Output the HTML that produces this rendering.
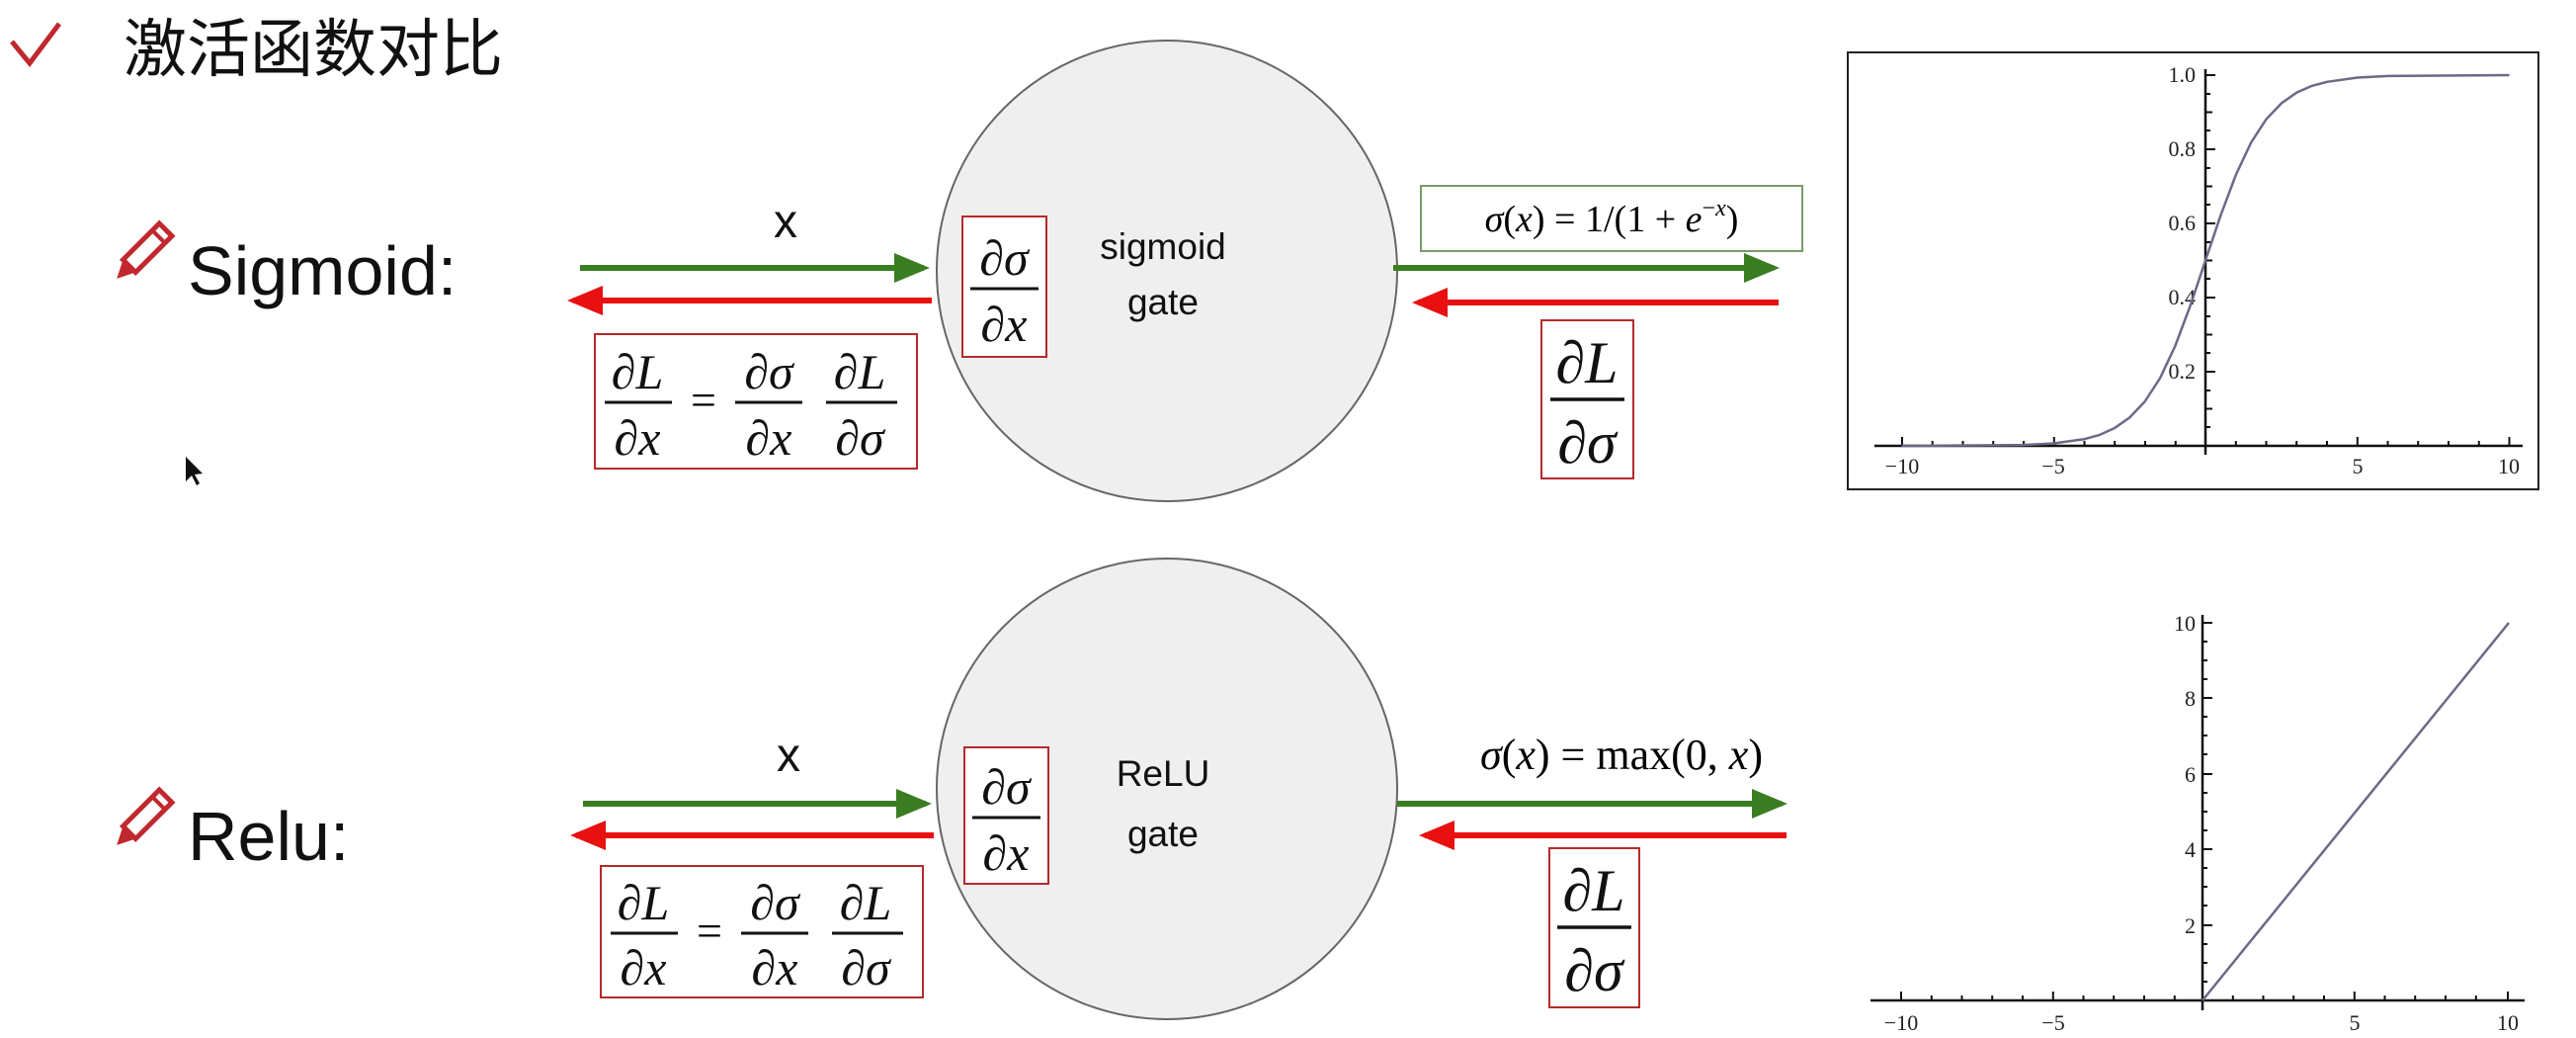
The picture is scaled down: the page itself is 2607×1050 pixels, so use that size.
<!DOCTYPE html>
<html><head><meta charset="utf-8"><style>
html,body{margin:0;padding:0;background:#fff;}
svg{display:block;}
.m{font-family:"Liberation Serif",serif;font-style:italic;fill:#111;}
.s{font-family:"Liberation Sans","Noto Sans CJK SC",sans-serif;fill:#111;}
.t{font-family:"Liberation Serif",serif;font-size:22px;fill:#222;}
</style></head><body>
<svg width="2607" height="1050" viewBox="0 0 2607 1050" xmlns="http://www.w3.org/2000/svg">
<defs>
<marker id="ag" markerWidth="6" markerHeight="6" refX="5" refY="3" orient="auto" markerUnits="strokeWidth"><path d="M0,0.5 L6,3 L0,5.5 Z" fill="#3a7d22"/></marker>
<marker id="ar" markerWidth="6" markerHeight="6" refX="5" refY="3" orient="auto" markerUnits="strokeWidth"><path d="M0,0.5 L6,3 L0,5.5 Z" fill="#e81010"/></marker>
</defs>
<path d="M12,42 L30,64 L60,24" fill="none" stroke="#c0282e" stroke-width="5"/>
<path d="M16,40 L30,57 L56,22" fill="none" stroke="#fff" stroke-width="1.5"/>
<text x="125" y="72" class="s" font-size="64">激活函数对比</text>

<g transform="translate(145,255) rotate(45)"><rect x="-9" y="-32" width="18" height="52" fill="none" stroke="#c0282e" stroke-width="5"/><path d="M-9,20 L0,38 L9,20 Z" fill="#c0282e"/><line x1="-9" y1="-22" x2="9" y2="-22" stroke="#c0282e" stroke-width="4"/></g>
<g transform="translate(145,828) rotate(45)"><rect x="-9" y="-32" width="18" height="52" fill="none" stroke="#c0282e" stroke-width="5"/><path d="M-9,20 L0,38 L9,20 Z" fill="#c0282e"/><line x1="-9" y1="-22" x2="9" y2="-22" stroke="#c0282e" stroke-width="4"/></g>
<text x="190" y="298" class="s" font-size="70">Sigmoid:</text>
<text x="190" y="870" class="s" font-size="70">Relu:</text>

<circle cx="1181" cy="274" r="233" fill="#efefef" stroke="#666" stroke-width="2"/>
<line x1="587" y1="271" x2="935" y2="271" stroke="#3a7d22" stroke-width="6" marker-end="url(#ag)"/>
<line x1="943" y1="304" x2="580" y2="304" stroke="#e81010" stroke-width="6" marker-end="url(#ar)"/>
<line x1="1410" y1="271" x2="1795" y2="271" stroke="#3a7d22" stroke-width="6" marker-end="url(#ag)"/>
<line x1="1800" y1="306" x2="1435" y2="306" stroke="#e81010" stroke-width="6" marker-end="url(#ar)"/>
<text x="795" y="240" class="s" font-size="48" text-anchor="middle">x</text>
<text x="1177" y="262" class="s" font-size="37" text-anchor="middle">sigmoid</text>
<text x="1177" y="318" class="s" font-size="37" text-anchor="middle">gate</text>
<rect x="974" y="219" width="85" height="142" fill="#fff" stroke="#b52a2a" stroke-width="2"/>
<text x="1016" y="278" class="m" font-size="50" text-anchor="middle">∂σ</text>
<line x1="982" y1="292" x2="1051" y2="292" stroke="#111" stroke-width="3"/>
<text x="1016" y="345" class="m" font-size="50" text-anchor="middle">∂x</text>
<rect x="602" y="338" width="326" height="136" fill="#fff" stroke="#b52a2a" stroke-width="2"/>
<g class="m" font-size="50" text-anchor="middle">
<text x="645" y="393">∂L</text><text x="645" y="460">∂x</text>
<text x="778" y="393">∂σ</text><text x="778" y="460">∂x</text>
<text x="870" y="393">∂L</text><text x="870" y="460">∂σ</text>
</g>
<line x1="612" y1="407" x2="680" y2="407" stroke="#111" stroke-width="3"/>
<line x1="744" y1="407" x2="812" y2="407" stroke="#111" stroke-width="3"/>
<line x1="836" y1="407" x2="908" y2="407" stroke="#111" stroke-width="3"/>
<text x="712" y="420" font-family="Liberation Serif,serif" font-size="46" text-anchor="middle">=</text>
<rect x="1438" y="188" width="386" height="66" fill="#fff" stroke="#7a9a6a" stroke-width="2"/>
<text x="1631" y="234" font-family="Liberation Serif,serif" font-size="38" text-anchor="middle"><tspan font-style="italic">σ</tspan>(<tspan font-style="italic">x</tspan>) = 1/(1 + <tspan font-style="italic">e</tspan><tspan font-size="24" dy="-16">−<tspan font-style="italic">x</tspan></tspan><tspan dy="16">)</tspan></text>
<rect x="1560" y="324" width="93" height="160" fill="#fff" stroke="#b52a2a" stroke-width="2"/>
<text x="1606" y="387" class="m" font-size="60" text-anchor="middle">∂L</text>
<line x1="1569" y1="404" x2="1644" y2="404" stroke="#111" stroke-width="3.5"/>
<text x="1606" y="468" class="m" font-size="60" text-anchor="middle">∂σ</text>

<circle cx="1181" cy="798" r="233" fill="#efefef" stroke="#666" stroke-width="2"/>
<line x1="590" y1="813" x2="937" y2="813" stroke="#3a7d22" stroke-width="6" marker-end="url(#ag)"/>
<line x1="945" y1="845" x2="583" y2="845" stroke="#e81010" stroke-width="6" marker-end="url(#ar)"/>
<line x1="1414" y1="813" x2="1803" y2="813" stroke="#3a7d22" stroke-width="6" marker-end="url(#ag)"/>
<line x1="1808" y1="845" x2="1442" y2="845" stroke="#e81010" stroke-width="6" marker-end="url(#ar)"/>
<text x="798" y="780" class="s" font-size="48" text-anchor="middle">x</text>
<text x="1177" y="795" class="s" font-size="37" text-anchor="middle">ReLU</text>
<text x="1177" y="856" class="s" font-size="37" text-anchor="middle">gate</text>
<rect x="976" y="756" width="85" height="138" fill="#fff" stroke="#b52a2a" stroke-width="2"/>
<text x="1018" y="813" class="m" font-size="50" text-anchor="middle">∂σ</text>
<line x1="984" y1="827" x2="1053" y2="827" stroke="#111" stroke-width="3"/>
<text x="1018" y="880" class="m" font-size="50" text-anchor="middle">∂x</text>
<rect x="608" y="876" width="326" height="133" fill="#fff" stroke="#b52a2a" stroke-width="2"/>
<g class="m" font-size="50" text-anchor="middle">
<text x="651" y="930">∂L</text><text x="651" y="996">∂x</text>
<text x="784" y="930">∂σ</text><text x="784" y="996">∂x</text>
<text x="876" y="930">∂L</text><text x="876" y="996">∂σ</text>
</g>
<line x1="618" y1="944" x2="686" y2="944" stroke="#111" stroke-width="3"/>
<line x1="750" y1="944" x2="818" y2="944" stroke="#111" stroke-width="3"/>
<line x1="842" y1="944" x2="914" y2="944" stroke="#111" stroke-width="3"/>
<text x="718" y="957" font-family="Liberation Serif,serif" font-size="46" text-anchor="middle">=</text>
<text x="1641" y="778" font-family="Liberation Serif,serif" font-size="44" text-anchor="middle"><tspan font-style="italic">σ</tspan>(<tspan font-style="italic">x</tspan>) = max(0, <tspan font-style="italic">x</tspan>)</text>
<rect x="1568" y="858" width="91" height="161" fill="#fff" stroke="#b52a2a" stroke-width="2"/>
<text x="1613" y="921" class="m" font-size="60" text-anchor="middle">∂L</text>
<line x1="1576" y1="938" x2="1651" y2="938" stroke="#111" stroke-width="3.5"/>
<text x="1613" y="1002" class="m" font-size="60" text-anchor="middle">∂σ</text>

<rect x="1870" y="53" width="699" height="442" fill="#fff" stroke="#222" stroke-width="2"/>
<line x1="1897" y1="451" x2="2553" y2="451" stroke="#111" stroke-width="2.5"/>
<line x1="2232" y1="70" x2="2232" y2="460" stroke="#111" stroke-width="2.5"/>
<g stroke="#111" stroke-width="2">
<path d="M1925,451v-9M1955.7,451v-5M1986.5,451v-5M2017.2,451v-5M2048,451v-5M2078.8,451v-9M2109.5,451v-5M2140.2,451v-5M2171,451v-5M2201.8,451v-5M2262.8,451v-5M2293.5,451v-5M2324.2,451v-5M2355,451v-5M2385.8,451v-9M2416.5,451v-5M2447.2,451v-5M2478,451v-5M2508.8,451v-5M2539.5,451v-9"/>
<path d="M2232,76h10M2232,113.5h7M2232,151h10M2232,188.5h7M2232,226h10M2232,263.5h7M2232,301h10M2232,338.5h7M2232,376h10M2232,413.5h7M2232,95h5M2232,132h5M2232,170h5M2232,207h5M2232,245h5M2232,282h5M2232,320h5M2232,357h5M2232,395h5M2232,432h5"/>
</g>
<g class="t" text-anchor="end">
<text x="2222" y="83">1.0</text><text x="2222" y="158">0.8</text><text x="2222" y="233">0.6</text><text x="2222" y="308">0.4</text><text x="2222" y="383">0.2</text>
</g>
<g class="t" text-anchor="middle">
<text x="1925" y="479">−10</text><text x="2078" y="479">−5</text><text x="2386" y="479">5</text><text x="2539" y="479">10</text>
</g>
<polyline fill="none" stroke="#6a6a88" stroke-width="2.5" points="1924.5,451 2047.5,450.1 2078.3,448.5 2109,444.3 2124.4,440.1 2139.8,433.2 2155.1,422.5 2170.5,406.4 2185.9,382.8 2201.3,350.1 2216.6,309.3 2232,263.5 2247.4,217.8 2262.8,176.9 2278.1,144.3 2293.5,120.6 2308.9,104.5 2324.3,93.6 2339.6,86.9 2355,82.8 2385.8,78.5 2416.5,76.9 2539.5,76"/>

<line x1="1893" y1="1012" x2="2555" y2="1012" stroke="#111" stroke-width="2.5"/>
<line x1="2229" y1="622" x2="2229" y2="1022" stroke="#111" stroke-width="2.5"/>
<g stroke="#111" stroke-width="2">
<path d="M1924,1012v-9M1954.8,1012v-5M1985.5,1012v-5M2016.2,1012v-5M2047,1012v-5M2077.8,1012v-9M2108.5,1012v-5M2139.2,1012v-5M2170,1012v-5M2200.8,1012v-5M2259.8,1012v-5M2290.5,1012v-5M2321.2,1012v-5M2352,1012v-5M2382.8,1012v-9M2413.5,1012v-5M2444.2,1012v-5M2475,1012v-5M2505.8,1012v-5M2538,1012v-9"/>
<path d="M2229,630h10M2229,706h10M2229,783h10M2229,859h10M2229,936h10M2229,649h5M2229,668h5M2229,687h5M2229,725h5M2229,744h5M2229,763h5M2229,802h5M2229,821h5M2229,840h5M2229,878h5M2229,897h5M2229,916h5M2229,955h5M2229,974h5M2229,993h5"/>
</g>
<g class="t" text-anchor="end">
<text x="2222" y="638">10</text><text x="2222" y="714">8</text><text x="2222" y="791">6</text><text x="2222" y="867">4</text><text x="2222" y="944">2</text>
</g>
<g class="t" text-anchor="middle">
<text x="1924" y="1042">−10</text><text x="2078" y="1042">−5</text><text x="2383" y="1042">5</text><text x="2538" y="1042">10</text>
</g>
<line x1="2229" y1="1012" x2="2539" y2="630" stroke="#6a6a88" stroke-width="2.5"/>
<path d="M188,462 L188,487 L194,481 L199,491 L202,489 L197,480 L205,479 Z" fill="#111"/>
</svg>
</body></html>
